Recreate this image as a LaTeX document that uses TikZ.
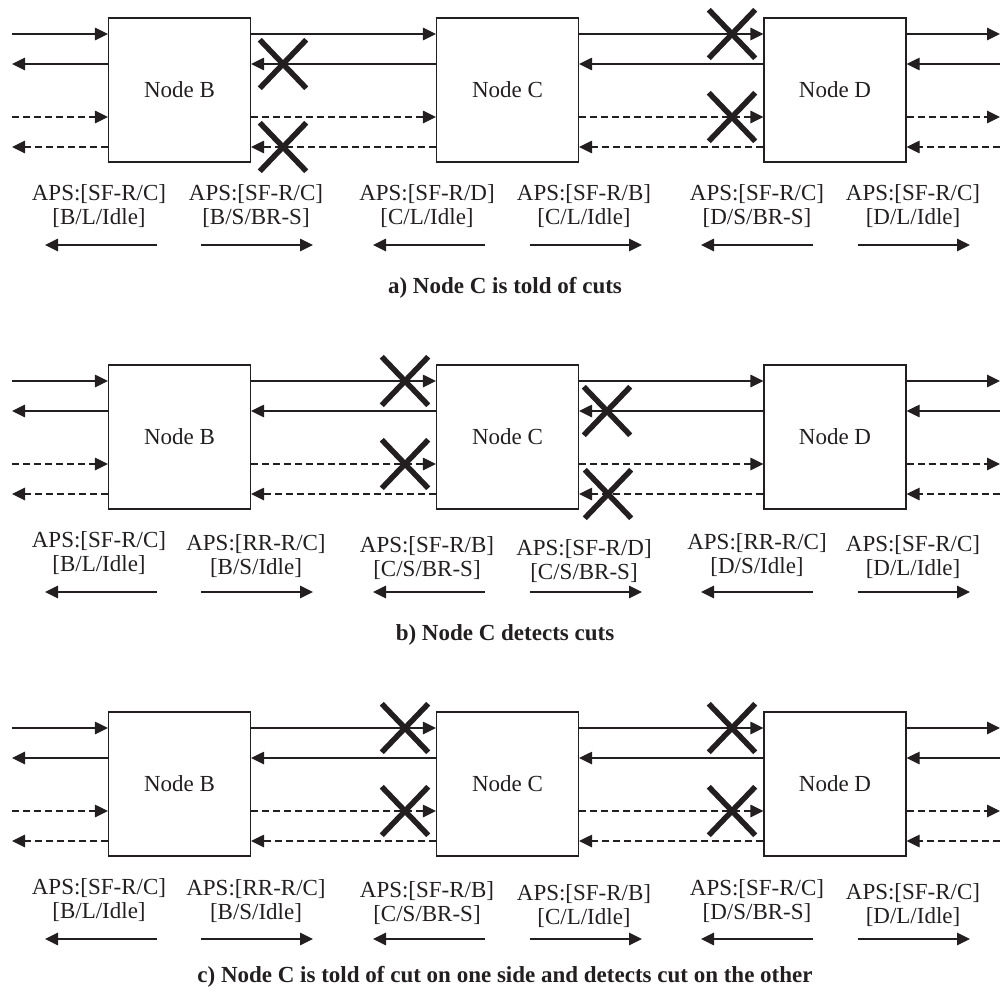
\documentclass[tikz,border=0pt]{standalone}
\usepackage{fontspec}
\setmainfont{Liberation Serif}
\usetikzlibrary{arrows.meta,shapes.misc}
\definecolor{ink}{HTML}{231F20}

\newcommand\APSpanel[4]{%
  \begin{scope}[shift={(0,#1)}]
    \node[boxnode] (#2B) at (179.5,90) {Node B};
    \node[boxnode] (#2C) at (507.5,90) {Node C};
    \node[boxnode] (#2D) at (835,90) {Node D};
    \coordinate (#2L1) at (12,34);   \coordinate (#2R1) at (1000,34);
    \coordinate (#2L2) at (12,64);   \coordinate (#2R2) at (1000,64);
    \coordinate (#2L3) at (12,117);  \coordinate (#2R3) at (1000,117);
    \coordinate (#2L4) at (12,147);  \coordinate (#2R4) at (1000,147);
    % solid pair
    \draw[link] (#2L1) -- (#2B.west |- #2L1);
    \draw[link] (#2B.east |- #2L1) -- (#2C.west |- #2L1);
    \draw[link] (#2C.east |- #2L1) -- (#2D.west |- #2L1);
    \draw[link] (#2D.east |- #2L1) -- (#2R1);
    \draw[link] (#2B.west |- #2L2) -- (#2L2);
    \draw[link] (#2C.west |- #2L2) -- (#2B.east |- #2L2);
    \draw[link] (#2D.west |- #2L2) -- (#2C.east |- #2L2);
    \draw[link] (#2R2) -- (#2D.east |- #2L2);
    % dashed pair
    \draw[dlink] (#2L3) -- (#2B.west |- #2L3);
    \draw[dlink] (#2B.east |- #2L3) -- (#2C.west |- #2L3);
    \draw[dlink] (#2C.east |- #2L3) -- (#2D.west |- #2L3);
    \draw[dlink] (#2D.east |- #2L3) -- (#2R3);
    \draw[dlink] (#2B.west |- #2L4) -- (#2L4);
    \draw[dlink] (#2C.west |- #2L4) -- (#2B.east |- #2L4);
    \draw[dlink] (#2D.west |- #2L4) -- (#2C.east |- #2L4);
    \draw[dlink] (#2R4) -- (#2D.east |- #2L4);
    % direction arrows under labels
    \coordinate (#2s1) at (157,245); \coordinate (#2e1) at (45,245);
    \coordinate (#2s2) at (201,245); \coordinate (#2e2) at (313,245);
    \coordinate (#2s3) at (485,245); \coordinate (#2e3) at (373,245);
    \coordinate (#2s4) at (530,245); \coordinate (#2e4) at (642,245);
    \coordinate (#2s5) at (813,245); \coordinate (#2e5) at (701,245);
    \coordinate (#2s6) at (858,245); \coordinate (#2e6) at (970,245);
    \foreach \k in {1,...,6} {\draw[link] (#2s\k) -- (#2e\k);}
    \node[captext] (#2cap) at (505,#4) {#3};
  \end{scope}}

\newcommand\apslabel[5]{\node[lbl] (#1) at (#2,#3+#4) {#5};}
\newcommand\cutat[3]{\node[cutmark] (#1) at (#2,#3) {};}

\begin{document}
\begin{tikzpicture}[x=1bp,y=-1bp,
  every node/.style={text=ink, font=\fontsize{23bp}{24bp}\selectfont},
  boxnode/.style={draw=ink, line width=1.1bp, minimum width=142bp, minimum height=144bp, inner sep=0pt},
  link/.style={draw=ink, line width=1.1bp, -{Triangle[length=13bp,width=12.5bp]}},
  dlink/.style={link, dash pattern=on 7bp off 4bp},
  cutmark/.style={cross out, draw=ink, line width=5.5bp, minimum width=41bp, minimum height=43bp, inner sep=0pt},
  lbl/.style={align=center, inner sep=0pt},
  captext/.style={font=\fontsize{23bp}{24bp}\selectfont\bfseries, inner sep=0pt},
]
\useasboundingbox (0,0) rectangle (1000,989);

% ---------- panel a ----------
\APSpanel{0}{a}{a) Node C is told of cuts}{288}
\apslabel{al1}{99}{206}{0}{APS:[SF-R/C]\\{}[B/L/Idle]}
\apslabel{al2}{256}{206}{0}{APS:[SF-R/C]\\{}[B/S/BR-S]}
\apslabel{al3}{427}{206}{0}{APS:[SF-R/D]\\{}[C/L/Idle]}
\apslabel{al4}{584}{206}{0}{APS:[SF-R/B]\\{}[C/L/Idle]}
\apslabel{al5}{757}{206}{0}{APS:[SF-R/C]\\{}[D/S/BR-S]}
\apslabel{al6}{913}{206}{0}{APS:[SF-R/C]\\{}[D/L/Idle]}
\cutat{ax1}{283}{64}
\cutat{ax2}{283}{147}
\cutat{ax3}{732}{34}
\cutat{ax4}{732}{117}

% ---------- panel b ----------
\APSpanel{347}{b}{b) Node C detects cuts}{288}
\apslabel{bl1}{99}{553}{0}{APS:[SF-R/C]\\{}[B/L/Idle]}
\apslabel{bl2}{256}{553}{3}{APS:[RR-R/C]\\{}[B/S/Idle]}
\apslabel{bl3}{427}{553}{5}{APS:[SF-R/B]\\{}[C/S/BR-S]}
\apslabel{bl4}{584}{553}{8}{APS:[SF-R/D]\\{}[C/S/BR-S]}
\apslabel{bl5}{757}{553}{2}{APS:[RR-R/C]\\{}[D/S/Idle]}
\apslabel{bl6}{913}{553}{4}{APS:[SF-R/C]\\{}[D/L/Idle]}
\cutat{bx1}{405}{381}
\cutat{bx2}{405}{464}
\cutat{bx3}{607}{411}
\cutat{bx4}{608}{494}

% ---------- panel c ----------
\APSpanel{694}{c}{c) Node C is told of cut on one side and detects cut on the other}{283}
\apslabel{cl1}{99}{900}{0}{APS:[SF-R/C]\\{}[B/L/Idle]}
\apslabel{cl2}{256}{900}{1}{APS:[RR-R/C]\\{}[B/S/Idle]}
\apslabel{cl3}{427}{900}{3}{APS:[SF-R/B]\\{}[C/S/BR-S]}
\apslabel{cl4}{584}{900}{6}{APS:[SF-R/B]\\{}[C/L/Idle]}
\apslabel{cl5}{757}{900}{1}{APS:[SF-R/C]\\{}[D/S/BR-S]}
\apslabel{cl6}{913}{900}{5}{APS:[SF-R/C]\\{}[D/L/Idle]}
\cutat{cx1}{405}{728}
\cutat{cx2}{405}{811}
\cutat{cx3}{732}{728}
\cutat{cx4}{732}{811}
\end{tikzpicture}
\end{document}
